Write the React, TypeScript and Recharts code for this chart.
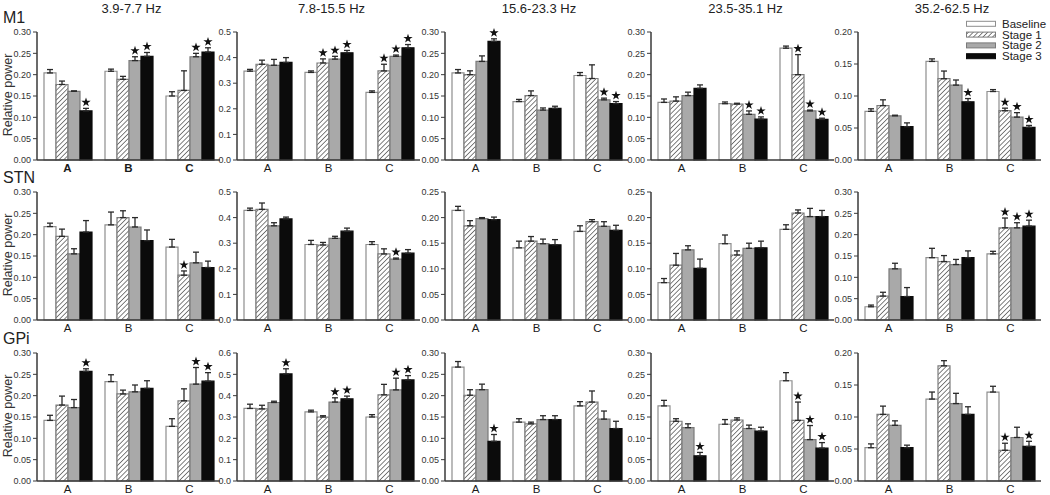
import React from 'react';
import { BarChart, Bar, XAxis, YAxis, ErrorBar, Rectangle, Symbols } from 'recharts';

// ---------- categories / labels ----------
const GROUPS = ['A', 'B', 'C'];
const STAGES = ['Baseline', 'Stage 1', 'Stage 2', 'Stage 3'];
const BANDS = ['3.9-7.7 Hz', '7.8-15.5 Hz', '15.6-23.3 Hz', '23.5-35.1 Hz', '35.2-62.5 Hz'];
const REGIONS = ['M1', 'STN', 'GPi'];
const Y_LABEL = 'Relative power';

// ---------- tick values ----------
const T20 = [0, 0.05, 0.1, 0.15, 0.2];
const T25 = [0, 0.05, 0.1, 0.15, 0.2, 0.25];
const T30 = [0, 0.05, 0.1, 0.15, 0.2, 0.25, 0.3];
const T50 = [0, 0.1, 0.2, 0.3, 0.4, 0.5];
const T60 = [0, 0.1, 0.2, 0.3, 0.4, 0.5, 0.6];
const M1_TICKS = [T30, T50, T30, T30, T20];
const STN_TICKS = [T30, T50, T25, T25, T30];
const GPI_TICKS = [T30, T60, T30, T30, T20];

// ---------- data: [band][group][stage] ----------
const M1_MEAN = [
  [[0.204, 0.177, 0.161, 0.115], [0.208, 0.189, 0.233, 0.243], [0.150, 0.163, 0.242, 0.253]],
  [[0.347, 0.374, 0.370, 0.381], [0.342, 0.379, 0.394, 0.419], [0.264, 0.348, 0.405, 0.438]],
  [[0.204, 0.200, 0.231, 0.278], [0.137, 0.151, 0.117, 0.121], [0.198, 0.191, 0.141, 0.132]],
  [[0.135, 0.138, 0.151, 0.168], [0.132, 0.131, 0.107, 0.096], [0.262, 0.200, 0.115, 0.095]],
  [[0.076, 0.085, 0.069, 0.052], [0.154, 0.127, 0.117, 0.091], [0.107, 0.077, 0.067, 0.051]],
];
const M1_SEM = [
  [[0.008, 0.008, 0.001, 0.006], [0.005, 0.007, 0.009, 0.009], [0.010, 0.046, 0.008, 0.010]],
  [[0.007, 0.016, 0.023, 0.019], [0.006, 0.016, 0.011, 0.009], [0.006, 0.026, 0.005, 0.013]],
  [[0.008, 0.009, 0.013, 0.006], [0.005, 0.011, 0.005, 0.005], [0.007, 0.032, 0.004, 0.005]],
  [[0.008, 0.010, 0.008, 0.008], [0.004, 0.002, 0.008, 0.005], [0.005, 0.047, 0.002, 0.003]],
  [[0.004, 0.009, 0.001, 0.006], [0.004, 0.012, 0.008, 0.005], [0.003, 0.004, 0.007, 0.003]],
];
const M1_SIG = [
  [[0, 0, 0, 1], [0, 0, 1, 1], [0, 0, 1, 1]],
  [[0, 0, 0, 0], [0, 1, 1, 1], [0, 1, 1, 1]],
  [[0, 0, 0, 1], [0, 0, 0, 0], [0, 0, 1, 1]],
  [[0, 0, 0, 0], [0, 0, 1, 1], [0, 1, 1, 1]],
  [[0, 0, 0, 0], [0, 0, 0, 1], [0, 1, 1, 1]],
];

const STN_MEAN = [
  [[0.219, 0.196, 0.155, 0.206], [0.223, 0.240, 0.218, 0.186], [0.171, 0.105, 0.134, 0.123]],
  [[0.428, 0.432, 0.368, 0.395], [0.295, 0.293, 0.319, 0.347], [0.295, 0.258, 0.238, 0.261]],
  [[0.214, 0.184, 0.198, 0.196], [0.141, 0.154, 0.149, 0.147], [0.173, 0.192, 0.183, 0.175]],
  [[0.073, 0.107, 0.137, 0.101], [0.149, 0.127, 0.140, 0.141], [0.177, 0.209, 0.202, 0.202]],
  [[0.031, 0.056, 0.120, 0.055], [0.146, 0.137, 0.130, 0.146], [0.155, 0.216, 0.216, 0.220]],
];
const STN_SEM = [
  [[0.008, 0.017, 0.012, 0.027], [0.030, 0.016, 0.022, 0.025], [0.018, 0.010, 0.025, 0.015]],
  [[0.009, 0.025, 0.012, 0.007], [0.016, 0.010, 0.008, 0.012], [0.011, 0.020, 0.004, 0.014]],
  [[0.008, 0.010, 0.002, 0.005], [0.013, 0.009, 0.009, 0.010], [0.011, 0.004, 0.009, 0.010]],
  [[0.008, 0.023, 0.008, 0.018], [0.017, 0.008, 0.010, 0.013], [0.009, 0.006, 0.016, 0.012]],
  [[0.004, 0.009, 0.013, 0.021], [0.022, 0.014, 0.012, 0.016], [0.006, 0.023, 0.012, 0.014]],
];
const STN_SIG = [
  [[0, 0, 0, 0], [0, 0, 0, 0], [0, 1, 0, 0]],
  [[0, 0, 0, 0], [0, 0, 0, 0], [0, 0, 1, 0]],
  [[0, 0, 0, 0], [0, 0, 0, 0], [0, 0, 0, 0]],
  [[0, 0, 0, 0], [0, 0, 0, 0], [0, 0, 0, 0]],
  [[0, 0, 0, 0], [0, 0, 0, 0], [0, 1, 1, 1]],
];

const GPI_MEAN = [
  [[0.142, 0.178, 0.172, 0.257], [0.233, 0.204, 0.209, 0.217], [0.128, 0.188, 0.227, 0.234]],
  [[0.340, 0.338, 0.368, 0.502], [0.324, 0.300, 0.370, 0.385], [0.300, 0.404, 0.427, 0.474]],
  [[0.267, 0.201, 0.214, 0.093], [0.138, 0.134, 0.144, 0.144], [0.176, 0.185, 0.145, 0.123]],
  [[0.176, 0.140, 0.125, 0.059], [0.133, 0.143, 0.123, 0.117], [0.235, 0.142, 0.097, 0.077]],
  [[0.052, 0.104, 0.087, 0.052], [0.128, 0.180, 0.121, 0.104], [0.139, 0.048, 0.068, 0.054]],
];
const GPI_SEM = [
  [[0.012, 0.021, 0.019, 0.006], [0.016, 0.009, 0.016, 0.018], [0.018, 0.028, 0.039, 0.020]],
  [[0.020, 0.017, 0.006, 0.024], [0.008, 0.006, 0.020, 0.013], [0.011, 0.049, 0.055, 0.020]],
  [[0.013, 0.013, 0.013, 0.016], [0.008, 0.004, 0.009, 0.009], [0.010, 0.026, 0.019, 0.017]],
  [[0.013, 0.006, 0.009, 0.008], [0.011, 0.005, 0.008, 0.009], [0.019, 0.043, 0.033, 0.013]],
  [[0.006, 0.013, 0.007, 0.004], [0.011, 0.008, 0.016, 0.012], [0.009, 0.011, 0.016, 0.008]],
];
const GPI_SIG = [
  [[0, 0, 0, 1], [0, 0, 0, 0], [0, 0, 1, 1]],
  [[0, 0, 0, 1], [0, 0, 1, 1], [0, 0, 1, 1]],
  [[0, 0, 0, 1], [0, 0, 0, 0], [0, 0, 0, 0]],
  [[0, 0, 0, 1], [0, 0, 0, 0], [0, 1, 1, 1]],
  [[0, 0, 0, 0], [0, 0, 0, 0], [0, 1, 0, 1]],
];

const MEANS = [M1_MEAN, STN_MEAN, GPI_MEAN];
const SEMS = [M1_SEM, STN_SEM, GPI_SEM];
const SIGS = [M1_SIG, STN_SIG, GPI_SIG];
const TICKS = [M1_TICKS, STN_TICKS, GPI_TICKS];

// ---------- styling / layout ----------
const FONT = '"Liberation Sans", Arial, Helvetica, sans-serif';
const FILLS = ['#ffffff', 'url(#hatch)', '#a9a9a9', '#0b0b0b'];
const STROKES = ['#8e8e8e', '#7c7c7c', '#7a7a7a', '#0b0b0b'];
const AXIS = '#3a3a3a';
const PLOT_LEFT = [37, 237, 444.5, 651, 857.5];
const PLOT_TOP = [32, 192, 353];
const PLOT_W = 183;
const PLOT_H = 128;
const YAXIS_W = 36;
const MARGIN_TOP = 12;
const XAXIS_H = 20;
const CHART_W = YAXIS_W + PLOT_W + 2;
const CHART_H = MARGIN_TOP + PLOT_H + XAXIS_H;
const LEGEND_X = 966.5;
const LEGEND_Y = [23.8, 34.6, 45.4, 56.2];

function barShape(si: number) {
  return (props: any) => {
    const { x, y, width, height, payload } = props;
    const v = payload[`v${si}`];
    const e = payload[`e${si}`][1];
    const s = payload[`s${si}`];
    const k = v > 0 ? height / v : 0;
    const errTop = y - e * k;
    return (
      <g>
        <Rectangle x={x} y={y} width={width} height={height} fill={FILLS[si]} stroke={STROKES[si]} strokeWidth={1.2} />
        {s ? <Symbols cx={x + width / 2} cy={errTop - 6} type="star" size={27} fill="#111" /> : null}
      </g>
    );
  };
}

function Panel({ r, c }: { r: number; c: number }) {
  const mean = MEANS[r][c];
  const sem = SEMS[r][c];
  const sig = SIGS[r][c];
  const ticks = TICKS[r][c];
  const ymax = ticks[ticks.length - 1];
  const dec = ticks[1] - ticks[0] < 0.09 ? 2 : 1;
  const data = GROUPS.map((g, gi) => {
    const row: Record<string, any> = { group: g };
    STAGES.forEach((_, si) => {
      row[`v${si}`] = mean[gi][si];
      row[`e${si}`] = [0, sem[gi][si]];
      row[`s${si}`] = sig[gi][si];
    });
    return row;
  });
  const bold = r === 0 && c === 0;
  return (
    <BarChart
      width={CHART_W}
      height={CHART_H}
      data={data}
      margin={{ top: MARGIN_TOP, right: 2, bottom: 0, left: 0 }}
      barSize={12}
      barGap={0}
    >
      <XAxis
        dataKey="group"
        height={XAXIS_H}
        tickLine={false}
        tickSize={0}
        tickMargin={4}
        interval={0}
        axisLine={{ stroke: AXIS, strokeWidth: 1.5 }}
        tick={{ fontSize: 11.5, fill: '#1a1a1a', fontWeight: bold ? 'bold' : 'normal' }}
      />
      <YAxis
        type="number"
        width={YAXIS_W}
        domain={[0, ymax]}
        ticks={ticks}
        interval={0}
        tickFormatter={(v: number) => v.toFixed(dec)}
        tickSize={4}
        tickMargin={2}
        axisLine={{ stroke: AXIS, strokeWidth: 1.5 }}
        tickLine={{ stroke: AXIS }}
        tick={{ fontSize: 9, fill: '#333' }}
      />
      {STAGES.map((s, si) => (
        <Bar key={s} name={s} dataKey={`v${si}`} fill={FILLS[si]} stroke={STROKES[si]} isAnimationActive={false} shape={barShape(si)}>
          <ErrorBar dataKey={`e${si}`} width={3} stroke="#2a2a2a" strokeWidth={1.3} direction="y" isAnimationActive={false} />
        </Bar>
      ))}
    </BarChart>
  );
}

export default function App() {
  const rowBase = [23.3, 183.3, 343.5];
  return (
    <div style={{ position: 'absolute', left: 0, top: 0, width: 1050, height: 495, background: '#fff', fontFamily: FONT, overflow: 'hidden' }}>
      <svg width={0} height={0} style={{ position: 'absolute' }}>
        <defs>
          <pattern id="hatch" width={3.4} height={3.4} patternUnits="userSpaceOnUse" patternTransform="rotate(45)">
            <rect width={3.4} height={3.4} fill="#fff" />
            <line x1={0} y1={0} x2={0} y2={3.4} stroke="#3c3c3c" strokeWidth={1.3} />
          </pattern>
        </defs>
      </svg>
      {REGIONS.map((reg, r) =>
        BANDS.map((b, c) => (
          <div key={`${reg}-${b}`} style={{ position: 'absolute', left: PLOT_LEFT[c] - YAXIS_W, top: PLOT_TOP[r] - MARGIN_TOP }}>
            <Panel r={r} c={c} />
          </div>
        ))
      )}
      <svg width={1050} height={495} style={{ position: 'absolute', left: 0, top: 0, pointerEvents: 'none' }}>
        {BANDS.map((b, c) => (
          <text key={b} x={PLOT_LEFT[c] + PLOT_W / 2 + 3} y={13} textAnchor="middle" fontSize={13} fill="#222" fontFamily={FONT}>{b}</text>
        ))}
        {REGIONS.map((reg, r) => (
          <g key={reg}>
            <text x={3} y={rowBase[r]} fontSize={16} fill="#222" fontFamily={FONT}>{reg}</text>
            <text
              transform={`translate(11.5, ${PLOT_TOP[r] + PLOT_H / 2 - 1}) rotate(-90)`}
              textAnchor="middle"
              fontSize={12.5}
              fill="#333"
              fontFamily={FONT}
            >{Y_LABEL}</text>
          </g>
        ))}
        {STAGES.map((s, i) => (
          <g key={s}>
            <rect x={LEGEND_X} y={LEGEND_Y[i] - 2.5} width={29} height={5} fill={FILLS[i]} stroke={STROKES[i]} strokeWidth={1} />
            <text x={LEGEND_X + 35.5} y={LEGEND_Y[i] + 4} fontSize={11.5} fill="#222" fontFamily={FONT}>{s}</text>
          </g>
        ))}
      </svg>
    </div>
  );
}
